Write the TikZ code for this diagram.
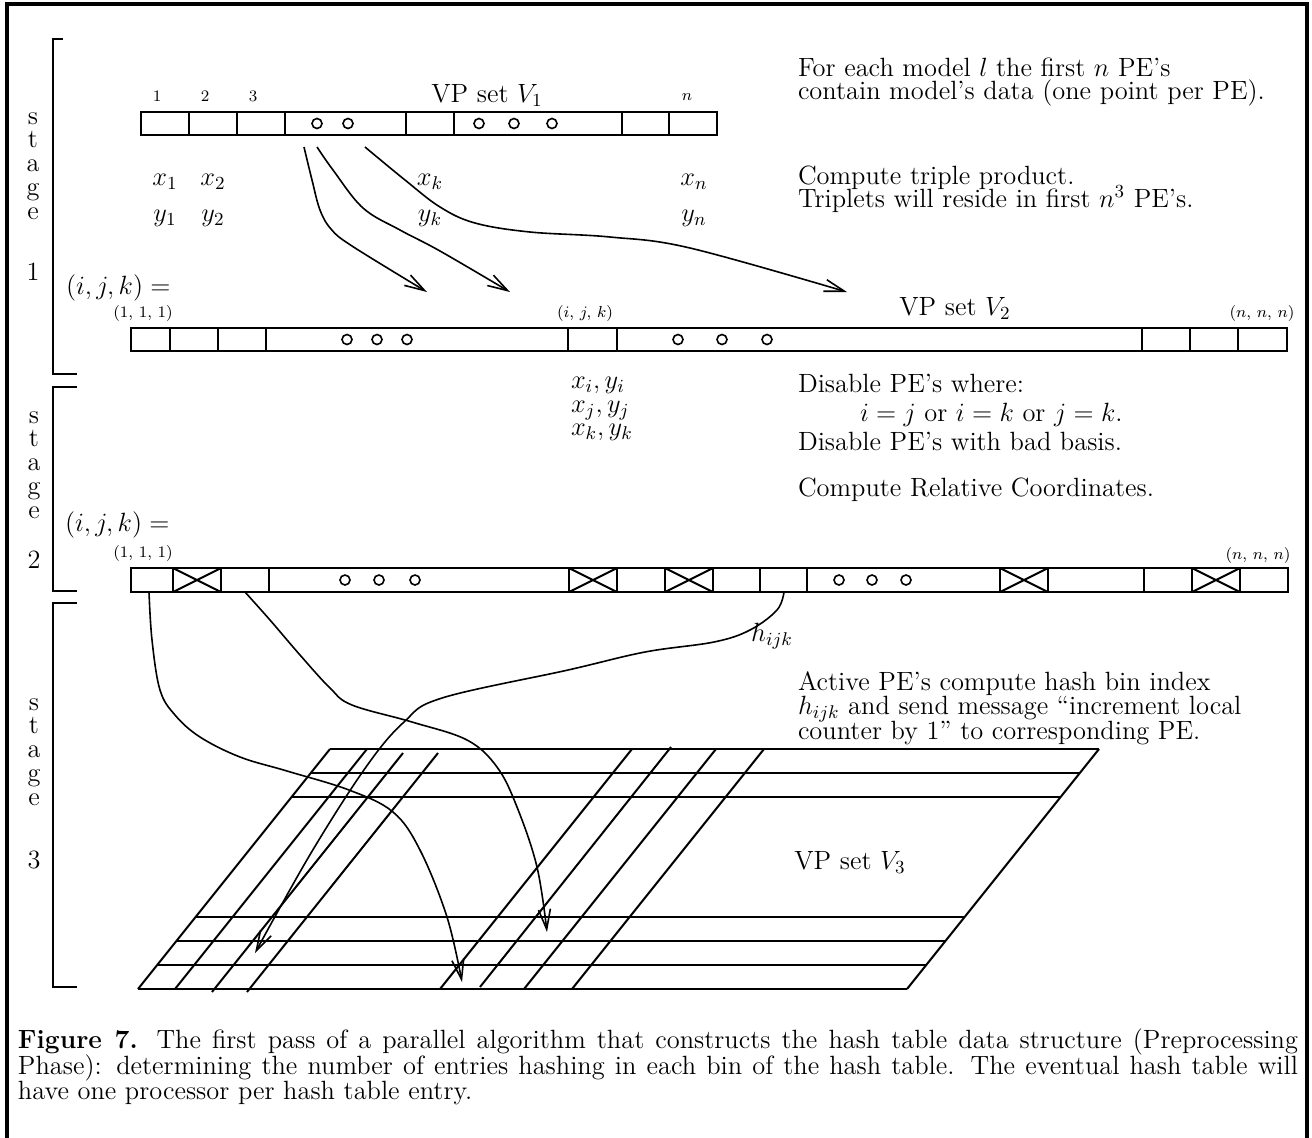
\RequirePackage{fix-cm}
\documentclass[tikz,border=0pt]{standalone}
\usepackage{amsmath}
\usepackage{amssymb}
\usepackage{tikz}
\usetikzlibrary{arrows.meta, positioning}

\newcommand{\txtsize}[1]{\fontsize{13.2}{#1}\selectfont\lineskiplimit=-20pt\relax}

\begin{document}
\begin{tikzpicture}[
    x=0.5pt, y=-0.5pt,
    line width=1pt,
    txt/.style={inner sep=0pt, font={\txtsize{11.5pt}}},
    note/.style={txt, align=left, anchor=west},
    idx/.style={inner sep=0pt, font={\fontsize{8}{9}\selectfont}},
    stagetext/.style={inner sep=0pt, align=center, font={\txtsize{11.9pt}}},
    dot/.style={line width=0.8pt},
    arrow/.style={line width=0.8pt, -{Straight Barb[length=10pt,width=6pt]}},
    outline/.style={line width=1.6pt}
  ]
  \useasboundingbox (0,0) rectangle (1312,1137);
  \draw[outline] (7,1140) -- (7,4) -- (1307,4) -- (1307,1140);

  % stage brackets
  \draw (63,39) -- (53,39) -- (53,374) -- (77,374);
  \draw (77,387) -- (53,387) -- (53,591) -- (77,591);
  \draw (77,603) -- (53,603) -- (53,987) -- (77,987);
  \node[stagetext] (stA) at (33,166) {s\\t\\a\\g\\e};
  \node[txt] (numA) at (33,272) {1};
  \node[stagetext] (stB) at (34,465) {s\\t\\a\\g\\e};
  \node[txt] (numB) at (34,560) {2};
  \node[stagetext] (stC) at (34,752) {s\\t\\a\\g\\e};
  \node[txt] (numC) at (34,860) {3};

  % VP set V1
  \draw (141,112) rectangle (717,135);
  \foreach \x in {189,237,285,406,454,622,669}
    \draw (\x,112) -- (\x,135);
  \foreach \x in {317,348,479,514,552}
    \draw[dot] (\x,123.5) circle[radius=2.5pt];
  \node[idx] (c1) at (157,96) {1};
  \node[idx] (c2) at (205,96) {2};
  \node[idx] (c3) at (253,96) {3};
  \node[idx] (cn) at (687,97) {$n$};
  \node[txt] (vA) at (487,95) {VP set $V_1$};
  \node[txt] (x1) at (165,182) {$x_1$};
  \node[txt] (x2) at (213,182) {$x_2$};
  \node[txt] (xk) at (430,182) {$x_k$};
  \node[txt] (xn) at (694,182) {$x_n$};
  \node[txt] (y1) at (165,218) {$y_1$};
  \node[txt] (y2) at (213,218) {$y_2$};
  \node[txt] (yk) at (430,218) {$y_k$};
  \node[txt] (yn) at (694,218) {$y_n$};

  \node[note] (tA) at (797,82) {For each model $l$ the first $n$ PE's\\contain model's data (one point per PE).};
  \node[note] (tB) at (797,189) {Compute triple product.\\Triplets will reside in first $n^3$ PE's.};

  % triple product arrows
  \coordinate (pA) at (304,147);
  \coordinate (pB) at (317,147);
  \coordinate (pC) at (365,147);
  \coordinate (qA) at (427,292);
  \coordinate (qB) at (510,292);
  \coordinate (qC) at (847,292);
  \draw[arrow] plot[smooth, tension=0.6] coordinates {(pA) (312,180) (320,210) (331,229) (352,246) (qA)};
  \draw[arrow] plot[smooth, tension=0.6] coordinates {(pB) (333,170) (363,208) (400,230) (440,251) (qB)};
  \draw[arrow] plot[smooth, tension=0.6] coordinates {(pC) (405,180) (440,207) (475,223) (530,232) (610,237) (690,248) (qC)};

  % VP set V2
  \node[txt, anchor=west] (ijkA) at (65,288) {$(i,j,k) =$};
  \node[idx] (oneA) at (143,313) {$(1,\,1,\,1)$};
  \node[idx] (ijk) at (585,313) {$(i,\,j,\,k)$};
  \node[idx] (nnnA) at (1262,313) {$(n,\,n,\,n)$};
  \node[txt] (vB) at (955,308) {VP set $V_2$};
  \draw (131,328) rectangle (1287,351);
  \foreach \x in {170,218,266,568,617,1142,1190,1238}
    \draw (\x,328) -- (\x,351);
  \foreach \x in {347,377,407,678,722,767}
    \draw[dot] (\x,339.5) circle[radius=2.5pt];

  \node[txt, align=left, anchor=west, font={\txtsize{11.75pt}}] (xyz) at (570,409) {$x_i,y_i$\\$x_j,y_j$\\$x_k,y_k$};
  \node[note, font={\txtsize{14.5pt}}] (tC) at (797,412) {Disable PE's where:\\\hspace*{31pt}$i=j$ or $i=k$ or $j=k$.\\Disable PE's with bad basis.};
  \node[note] (tD) at (797,490) {Compute Relative Coordinates.};

  % stage 2 bar
  \node[txt, anchor=west] (ijkB) at (64,525) {$(i,j,k) =$};
  \node[idx] (oneB) at (143,553) {$(1,\,1,\,1)$};
  \node[idx] (nnnB) at (1258,555) {$(n,\,n,\,n)$};
  \draw (131,568) rectangle (1288,592);
  \foreach \x in {173,221,269,569,617,665,713,760,807,1000,1048,1144,1192,1240}
    \draw (\x,568) -- (\x,592);
  \foreach \a/\b in {173/221,569/617,665/713,1000/1048,1192/1240}
    \draw (\a,568) -- (\b,592) (\a,592) -- (\b,568);
  \foreach \x in {345,379,415,839,872,906}
    \draw[dot] (\x,580) circle[radius=2.5pt];

  \node[note, font={\txtsize{12.25pt}}] (tE) at (797,708) {Active PE's compute hash bin index\\$h_{ijk}$ and send message ``increment local\\counter by 1'' to corresponding PE.};

  % VP set V3
  \foreach \y in {749,773,797,917,941,965,989}
    \draw ({330-0.8*(\y-749)},\y) -- ({1099-0.8*(\y-749)},\y);
  \draw (330,749) -- (138,989);
  \draw (367,749) -- (175,989);
  \draw (403,753) -- (212,992);
  \draw (438,753) -- (247,992);
  \draw (632,749) -- (440,989);
  \draw (671,747) -- (480,987);
  \draw (716,749) -- (524,989);
  \draw (764,749) -- (572,989);
  \draw (1099,749) -- (907,989);
  \node[txt] (vC) at (850,862) {VP set $V_3$};

  % hash messages
  \coordinate (sA) at (149,592);
  \coordinate (sB) at (245,592);
  \coordinate (sC) at (784,592);
  \coordinate (eA) at (462,982);
  \coordinate (eB) at (547,932);
  \coordinate (eC) at (255,953);
  \draw[arrow] plot[smooth, tension=0.6] coordinates {(sA) (152,640) (160,690) (175,715) (200,737) (240,757) (287,771) (349,790) (393,812) (420,850) (447,917) (eA)};
  \draw[arrow] plot[smooth, tension=0.6] coordinates {(sB) (270,620) (300,655) (330,688) (352,705) (412,722) (467,740) (497,767) (517,807) (537,867) (eB)};
  \draw[arrow] plot[smooth, tension=0.6] coordinates {(sC) (777,610) (750,630) (714,642) (645,652) (568,670) (442,698) (404,722) (366,767) (311,853) (eC)};
  \node[txt] (hl) at (772,636) {$h_{ijk}$};

  % caption
  \node[anchor=north west, inner sep=0pt, text width=640pt, align=justify, font={\txtsize{12.75pt}}] (cap) at (17,1028)
    {\noindent\textbf{Figure 7.} The first pass of a parallel algorithm that constructs the hash table data structure (Preprocessing\linebreak Phase): determining the number of entries hashing in each bin of the hash table. The eventual hash table will\linebreak have one processor per hash table entry.};
\end{tikzpicture}
\end{document}
